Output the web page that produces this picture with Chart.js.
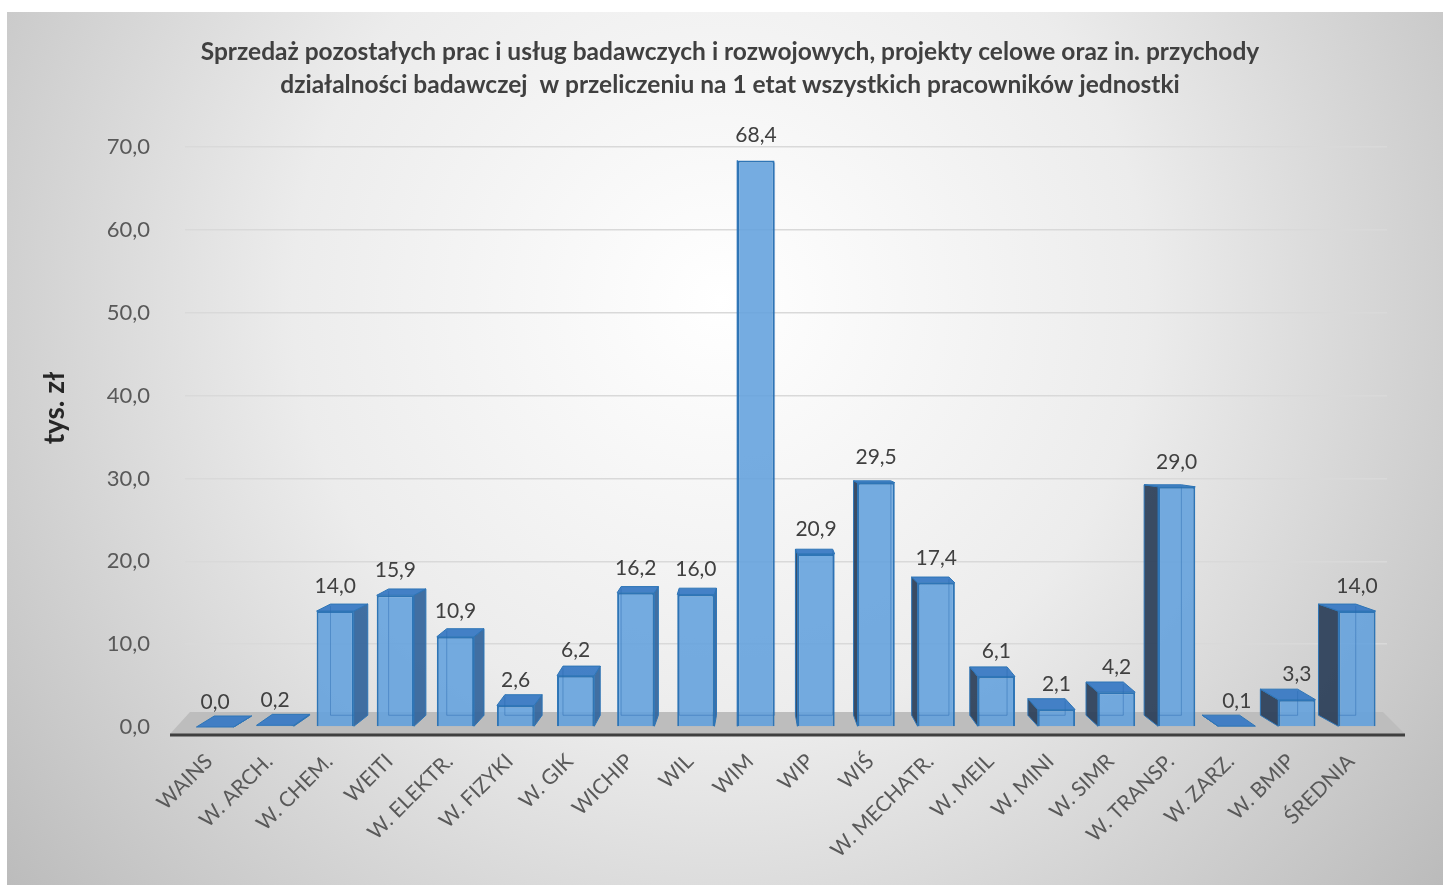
<!DOCTYPE html>
<html>
<head>
<meta charset="utf-8">
<script src="https://cdn.jsdelivr.net/npm/chart.js@4/dist/chart.umd.min.js"></script>
<style>
html, body { margin: 0; padding: 0; background: #fff; }
#chartjs { width: 1443px; height: 885px; }
</style>
</head>
<body>
<div id="chartjs"><canvas id="myChart" width="1443" height="885"></canvas></div>
<script>
// dane z wykresu
const categories = ['WAINS', 'W. ARCH.', 'W. CHEM.', 'WEITI', 'W. ELEKTR.', 'W. FIZYKI', 'W. GIK', 'WICHIP', 'WIL', 'WIM',
	'WIP', 'WIŚ', 'W. MECHATR.', 'W. MEIL', 'W. MINI', 'W. SIMR', 'W. TRANSP.', 'W. ZARZ.', 'W. BMIP', 'ŚREDNIA'];
const values = [0.0, 0.2, 14.0, 15.9, 10.9, 2.6, 6.2, 16.2, 16.0, 68.4,
	20.9, 29.5, 17.4, 6.1, 2.1, 4.2, 29.0, 0.1, 3.3, 14.0];
const yTicks = [0, 10, 20, 30, 40, 50, 60, 70];
const chartTitle = ['Sprzedaż pozostałych prac i usług badawczych i rozwojowych, projekty celowe oraz in. przychody',
	'działalności badawczej  w przeliczeniu na 1 etat wszystkich pracowników jednostki'];
const yTitle = 'tys. zł';

function fmt(v) {
	return v.toFixed(1).replace('.', ',');
}

// tlo z gradientem
const bgPlugin = {
	id: 'bg',
	beforeDraw(chart) {
		const ctx = chart.ctx;
		ctx.save();
		ctx.fillStyle = '#ffffff';
		ctx.fillRect(0, 0, chart.width, chart.height);
		let g = ctx.createRadialGradient(720, 300, 0, 720, 300, 950);
		g.addColorStop(0, '#ffffff');
		g.addColorStop(0.45, '#ececec');
		g.addColorStop(1, '#b9b9b9');
		ctx.fillStyle = g;
		ctx.fillRect(7, 12, chart.width - 7, chart.height - 12);
		ctx.restore();
	},
	afterDraw(chart) {
		// tytul osi Y
		const ctx = chart.ctx;
		ctx.save();
		ctx.translate(55, 408);
		ctx.rotate(-Math.PI / 2);
		ctx.font = 'bold 28px Lato';
		ctx.fillStyle = '#262626';
		ctx.textAlign = 'center';
		ctx.textBaseline = 'middle';
		ctx.fillText(yTitle, 0, 0);
		ctx.restore();
	}
};

// przesuniecie glebokosci 3D
function depthDx(chart, x) {
	const a = chart.chartArea;
	const cx = a.left + (a.right - a.left) * 0.475;
	return (cx - x) * 0.033;
}
function depthDy(chart, y) {
	const eye = chart.scales.y.getPixelForValue(35);
	return Math.max(-11, Math.min(0, (y - eye) * -0.04));
}

// podloga, os i boki slupkow
const floorPlugin = {
	id: 'floor',
	beforeDatasetsDraw(chart) {
		const ctx = chart.ctx;
		const a = chart.chartArea;
		const y0 = chart.scales.y.getPixelForValue(0);
		ctx.save();
		ctx.fillStyle = '#bdbdbd';
		ctx.beginPath();
		ctx.moveTo(a.left - 15, y0 + 7);
		ctx.lineTo(a.right + 18, y0 + 7);
		ctx.lineTo(a.right - 4, y0 - 15);
		ctx.lineTo(a.left + 5, y0 - 15);
		ctx.closePath();
		ctx.fill();
		ctx.strokeStyle = '#3f3f3f';
		ctx.lineWidth = 3;
		ctx.beginPath();
		ctx.moveTo(a.left - 15, y0 + 8);
		ctx.lineTo(a.right + 18, y0 + 8);
		ctx.stroke();

		const meta = chart.getDatasetMeta(0);
		meta.data.forEach(el => {
			const p = el.getProps(['x', 'y', 'base', 'width'], true);
			const xl = p.x - p.width / 2, xr = p.x + p.width / 2;
			const dx = depthDx(chart, p.x);
			const dyT = depthDy(chart, p.y);
			const dyB = depthDy(chart, p.base);
			ctx.lineWidth = 1;
			ctx.strokeStyle = '#2e75b6';
			// bok
			const xs = dx > 0 ? xr : xl;
			ctx.fillStyle = dx > 0 ? 'rgba(50,100,155,0.92)' : 'rgba(42,62,88,0.92)';
			ctx.beginPath();
			ctx.moveTo(xs, p.y);
			ctx.lineTo(xs + dx, p.y + dyT);
			ctx.lineTo(xs + dx, p.base + dyB);
			ctx.lineTo(xs, p.base);
			ctx.closePath();
			ctx.fill();
			ctx.stroke();
			// gora
			if (dyT < -0.5) {
				ctx.fillStyle = 'rgba(58,122,196,0.95)';
				ctx.beginPath();
				ctx.moveTo(xl, p.y);
				ctx.lineTo(xr, p.y);
				ctx.lineTo(xr + dx, p.y + dyT);
				ctx.lineTo(xl + dx, p.y + dyT);
				ctx.closePath();
				ctx.fill();
				ctx.stroke();
			}
		});
		ctx.restore();
	},
	afterDatasetsDraw(chart) {
		const ctx = chart.ctx;
		const meta = chart.getDatasetMeta(0);
		ctx.save();
		// tylne krawedzie widoczne przez przezroczysty slupek
		ctx.strokeStyle = 'rgba(40,105,175,0.45)';
		ctx.lineWidth = 1;
		meta.data.forEach(el => {
			const p = el.getProps(['x', 'y', 'base', 'width'], true);
			if (p.base - p.y < 15) return;
			const xl = p.x - p.width / 2, xr = p.x + p.width / 2;
			const dx = depthDx(chart, p.x);
			const dyT = depthDy(chart, p.y);
			const dyB = depthDy(chart, p.base);
			const xb = dx > 0 ? xl + dx : xr + dx;
			ctx.beginPath();
			ctx.moveTo(xb, p.y + dyT + 2);
			ctx.lineTo(xb, p.base + dyB);
			ctx.lineTo(dx > 0 ? xr : xl, p.base + dyB);
			ctx.stroke();
		});
		ctx.font = '21px Lato';
		ctx.fillStyle = '#404040';
		ctx.textAlign = 'center';
		ctx.textBaseline = 'middle';
		meta.data.forEach((el, i) => {
			const p = el.getProps(['x', 'y'], true);
			ctx.fillText(fmt(values[i]), p.x, p.y - 25);
		});
		ctx.restore();
	}
};

const data = {
	labels: categories,
	datasets: [{
		data: values,
		backgroundColor: 'rgba(98,160,221,0.88)',
		borderColor: '#2e75b6',
		borderWidth: 2,
		barPercentage: 0.62,
		categoryPercentage: 1
	}]
};

const config = {
	type: 'bar',
	data: data,
	options: {
		responsive: false,
		animation: false,
		devicePixelRatio: 1,
		layout: { padding: { left: 73, right: 56, top: 0, bottom: 0 } },
		plugins: {
			legend: { display: false },
			tooltip: { enabled: false },
			title: {
				display: true,
				text: chartTitle,
				color: '#404040',
				font: { family: 'Lato', size: 24.5, weight: 'bold', lineHeight: 1.33 },
				padding: { top: 36, bottom: 46 }
			}
		},
		scales: {
			x: {
				grid: { display: false, drawTicks: false },
				border: { display: false },
				ticks: {
					color: '#595959',
					font: { family: 'Lato', size: 21 },
					minRotation: 45,
					maxRotation: 45,
					padding: 22,
					labelOffset: -6,
					autoSkip: false
				},
				afterFit: s => { s.height = 158; }
			},
			y: {
				min: 0,
				max: 70,
				afterBuildTicks: s => { s.ticks = yTicks.map(v => ({ value: v })); },
				grid: { color: '#d9d9d9', lineWidth: 1.5, drawTicks: false },
				border: { display: false },
				ticks: {
					color: '#595959',
					font: { family: 'Lato', size: 22 },
					padding: 35,
					callback: v => fmt(v)
				},
				afterFit: s => { s.width = 112; }
			}
		}
	},
	plugins: [bgPlugin, floorPlugin]
};

let ctx = document.getElementById('myChart').getContext('2d');
new Chart(ctx, config);
</script>
</body>
</html>
